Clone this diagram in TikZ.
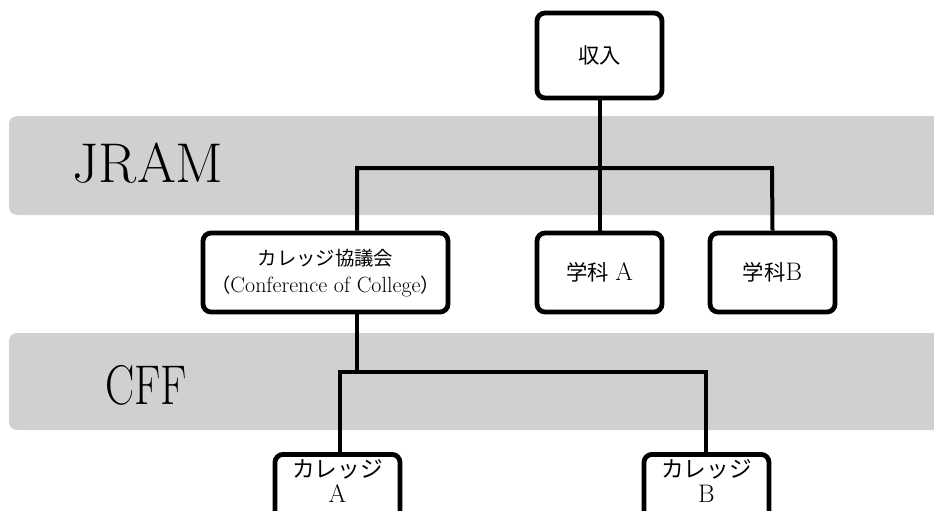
\documentclass[tikz,border=0pt]{standalone}
\usepackage{fontspec}
\newfontfamily\jp{Noto Sans CJK JP}
\begin{document}
\begin{tikzpicture}[x=0.75pt,y=-0.75pt,
  band/.style={fill=bandgray, draw=none, rounded corners=6pt},
  box/.style={draw=black, line width=3.6pt, rounded corners=6pt, fill=white, inner sep=0pt},
  link/.style={draw=black, line width=3pt},
  title/.style={font=\fontsize{42}{46}\selectfont},
  label/.style={align=center, font=\fontsize{16}{20}\selectfont}]
\definecolor{bandgray}{HTML}{D0D0D0}
\newcommand{\latinbig}{\fontsize{19}{20}\selectfont}
\useasboundingbox (0,0) rectangle (934,510);
\clip (0,0) rectangle (934,510);

% grey layers
\fill[band] (9,116) rectangle (960,215);
\fill[band] (9,333) rectangle (960,430);
\node[title] (jram) at (148,163) {JRAM};
\node[title, xscale=0.78] (cff) at (146,385) {CFF};

% junction points of the connector buses
\coordinate (j1) at (357,168);
\coordinate (j2) at (772,168);
\coordinate (k1) at (340,372);
\coordinate (k2) at (706,372);

% boxes
\node[box, minimum width=93.75pt, minimum height=63.75pt] (income) at (599.5,55.5) {};
\node[box, minimum width=183.75pt, minimum height=59.25pt] (cc) at (325.5,272.5) {};
\node[box, minimum width=93.75pt, minimum height=59.25pt] (ga) at (599.5,272.5) {};
\node[box, minimum width=93.75pt, minimum height=59.25pt] (gb) at (772.5,272.5) {};
\node[box, anchor=north, minimum width=93.75pt, minimum height=60pt] (ca) at (337.5,452) {};
\node[box, anchor=north, minimum width=93.75pt, minimum height=60pt] (cb) at (706.5,452) {};

% connectors
\draw[link] (income.south) -- (income.south |- j1);
\draw[link] (cc.north -| j1) -- (j1) -- (j2) -- (gb.north);
\draw[link] (ga.north) -- (ga.north |- j1);
\draw[link] (cc.south -| 357,0) -- (357,372);
\draw[link] (ca.north -| k1) -- (k1) -- (k2) -- (cb.north -| k2);

% texts
\node[label] (incomeT) at (income) {\jp 収入};
\node[label, font=\fontsize{14.5}{20}\selectfont] (ccT) at (325.5,273)
  {{\jp カレッジ協議会}\\{\jp （}{\fontsize{16.5}{20}\selectfont Conference of College}{\jp ）}};
\node[label] (gaT) at (ga) {{\jp 学科} {\latinbig A}};
\node[label] (gbT) at (gb) {{\jp 学科}{\latinbig B}};
\node[label, font=\fontsize{17}{19}\selectfont] (caT) at (337.5,481) {{\jp カレッジ}\\{\latinbig A}};
\node[label, font=\fontsize{17}{19}\selectfont] (cbT) at (706.5,481) {{\jp カレッジ}\\{\latinbig B}};
\end{tikzpicture}
\end{document}
